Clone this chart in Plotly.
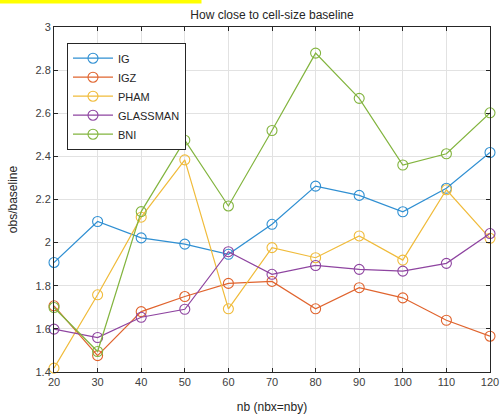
import plotly.graph_objects as go

nb = [20, 30, 40, 50, 60, 70, 80, 90, 100, 110, 120]
series_names = ["IG", "IGZ", "PHAM", "GLASSMAN", "BNI"]
IG = [1.908, 2.098, 2.022, 1.993, 1.946, 2.085, 2.262, 2.219, 2.143, 2.252, 2.418]
IGZ = [1.707, 1.476, 1.680, 1.750, 1.811, 1.820, 1.693, 1.791, 1.744, 1.640, 1.566]
PHAM = [1.418, 1.758, 2.118, 2.384, 1.693, 1.977, 1.930, 2.031, 1.919, 2.245, 2.020]
GLASSMAN = [1.599, 1.560, 1.654, 1.691, 1.958, 1.853, 1.894, 1.876, 1.868, 1.904, 2.042]
BNI = [1.699, 1.495, 2.144, 2.475, 2.170, 2.520, 2.879, 2.669, 2.360, 2.412, 2.602]
colors = ["#2f8fd2", "#e0642e", "#f0bb3a", "#8e44a0", "#82b43e"]

xticks = [20, 30, 40, 50, 60, 70, 80, 90, 100, 110, 120]
yticks = [1.4, 1.6, 1.8, 2.0, 2.2, 2.4, 2.6, 2.8, 3.0]
yticktext = ["1.4", "1.6", "1.8", "2", "2.2", "2.4", "2.6", "2.8", "3"]

W, H = 500, 417
L, R, T, B = 54, 9.5, 27.3, 45
PW, PH = W - L - R, H - T - B

fig = go.Figure()
for name, vals, c in zip(series_names, [IG, IGZ, PHAM, GLASSMAN, BNI], colors):
    fig.add_trace(go.Scatter(
        x=nb, y=vals, name=name, mode="lines+markers",
        line=dict(color=c, width=1.2),
        marker=dict(symbol="circle-open", size=10, color=c, line=dict(width=1.1, color=c)),
        cliponaxis=False,
    ))

axis_common = dict(
    showgrid=True, gridcolor="#e2e2e2", gridwidth=1,
    showline=True, linecolor="#262626", linewidth=1, mirror="ticks",
    ticks="inside", ticklen=4, tickcolor="#262626", tickwidth=1,
    zeroline=False, tickfont=dict(size=11, color="#404040"),
    automargin=False,
)
fig.update_xaxes(range=[20, 120], tickvals=xticks, **axis_common,
                 title=dict(text="nb (nbx=nby)", font=dict(size=12, color="#262626")))
fig.update_yaxes(range=[1.4, 3.0], tickvals=yticks, ticktext=yticktext, **axis_common,
                 title=dict(text="obs/baseline", font=dict(size=12, color="#262626"), standoff=15))

# heading cut off at the top edge of the picture
fig.add_annotation(
    xref="paper", yref="paper", x=(202 - L) / PW, y=1 + (T - 4.7) / PH,
    xanchor="right", yanchor="bottom", showarrow=False,
    text="<b>five similitude models</b>", height=25, valign="top",
    font=dict(family="Liberation Serif, Times New Roman, serif", size=24, color="black"),
    bgcolor="#ffff00", borderpad=0,
)

fig.update_layout(
    width=W, height=H,
    margin=dict(l=L, r=R, t=T, b=B, autoexpand=False),
    paper_bgcolor="white", plot_bgcolor="white",
    font=dict(family="Liberation Sans, Arial, sans-serif", color="#262626"),
    title=dict(text="How close to cell-size baseline", x=272 / W, xanchor="center",
               y=1 - 15 / H, yanchor="middle", font=dict(size=12, color="#262626")),
    legend=dict(x=(67 - L) / PW, y=1 - (43 - T) / PH, xanchor="left", yanchor="top",
                bgcolor="white", bordercolor="#262626", borderwidth=1,
                font=dict(size=11, color="#262626"), itemwidth=40, tracegroupgap=0),
    showlegend=True,
)

# the page's default 8px body margin would push the figure off the window's origin
fig.write_html("out.html", config={"displayModeBar": False},
               post_script="document.body.style.margin='0';")
